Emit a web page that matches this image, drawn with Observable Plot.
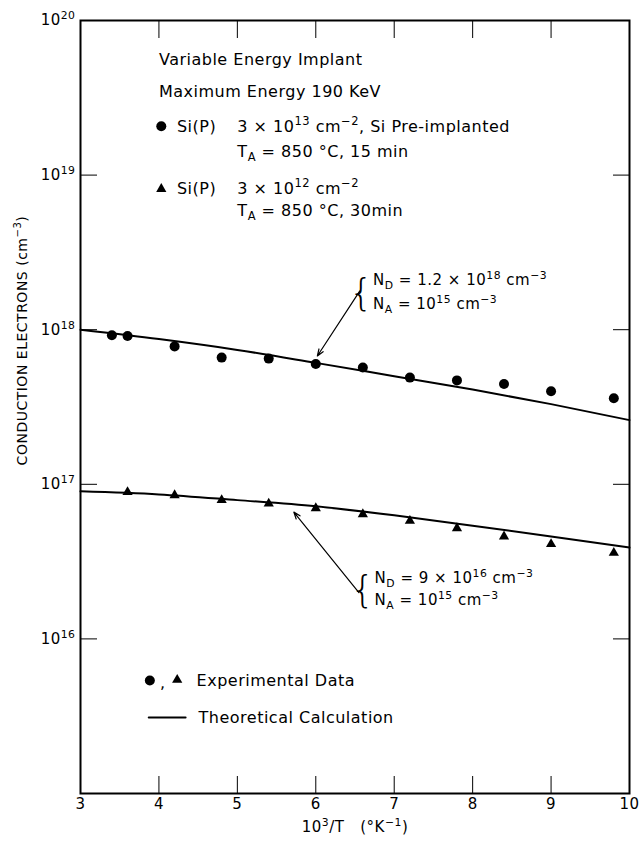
<!DOCTYPE html>
<html><head><meta charset="utf-8">
<script src="https://cdn.jsdelivr.net/npm/d3@7"></script>
<script src="https://cdn.jsdelivr.net/npm/@observablehq/plot@0.6"></script>
<style>
html,body{margin:0;padding:0;background:#fff;}
#chart{position:relative;width:642px;height:841px;}
#chart svg{display:block;}
#chart svg.overlay{position:absolute;left:0;top:0;}
#chart svg text{letter-spacing:0.5px;}
</style>
</head><body><div id="chart"></div>
<script>
// ---- data ----
const circleX = [3.4, 3.6, 4.2, 4.8, 5.4, 6.0, 6.6, 7.2, 7.8, 8.4, 9.0, 9.8];
const circleY = [9.2e17, 9.1e17, 7.8e17, 6.6e17, 6.5e17, 6.0e17, 5.7e17, 4.9e17, 4.7e17, 4.45e17, 4.0e17, 3.6e17];
const triangleX = [3.6, 4.2, 4.8, 5.4, 6.0, 6.6, 7.2, 7.8, 8.4, 9.0, 9.8];
const triangleY = [8.9e16, 8.5e16, 7.9e16, 7.5e16, 7.0e16, 6.4e16, 5.8e16, 5.2e16, 4.6e16, 4.1e16, 3.6e16];
const theoryX = [3, 4, 5, 6, 7, 8, 9, 10];
const theoryHighY = [1.0e18, 8.7e17, 7.4e17, 6.1e17, 5.0e17, 4.1e17, 3.3e17, 2.6e17];
const theoryLowY = [9.0e16, 8.6e16, 7.9e16, 7.2e16, 6.3e16, 5.4e16, 4.6e16, 3.9e16];
const xTicks = [3, 4, 5, 6, 7, 8, 9, 10];
const yTicks = [1e15, 1e16, 1e17, 1e18, 1e19, 1e20];
const yTickLabels = ["", "10^{16}", "10^{17}", "10^{18}", "10^{19}", "10^{20}"];

const circles = circleX.map((x, i) => ({x, y: circleY[i]}));
const triangles = triangleX.map((x, i) => ({x, y: triangleY[i]}));
const theoryHigh = theoryX.map((x, i) => ({x, y: theoryHighY[i]}));
const theoryLow = theoryX.map((x, i) => ({x, y: theoryLowY[i]}));

const P = (e) => Math.pow(10, e);
const F = "DejaVu Sans";
const TICK = 17;

const legendTexts = [
  {x: 4.0, y: P(19.748), t: "Variable Energy Implant"},
  {x: 4.0, y: P(19.54), t: "Maximum Energy 190 KeV"},
  {x: 4.23, y: P(19.31), t: "Si(P)"},
  {x: 5.0, y: P(19.31), t: "3 × 10^{13} cm^{−2}, Si Pre-implanted"},
  {x: 5.0, y: P(19.153), t: "T_{A} = 850 °C, 15 min"},
  {x: 4.23, y: P(18.91), t: "Si(P)"},
  {x: 5.0, y: P(18.91), t: "3 × 10^{12} cm^{−2}"},
  {x: 5.0, y: P(18.77), t: "T_{A} = 850 °C, 30min"},
  {x: 4.48, y: P(15.731), t: "Experimental Data"},
  {x: 4.505, y: P(15.492), t: "Theoretical Calculation"}
];
const noteTexts = [
  {x: 6.73, y: P(18.318), t: "N_{D} = 1.2 × 10^{18} cm^{−3}"},
  {x: 6.73, y: P(18.163), t: "N_{A} = 10^{15} cm^{−3}"},
  {x: 6.75, y: P(16.39), t: "N_{D} = 9 × 10^{16} cm^{−3}"},
  {x: 6.75, y: P(16.248), t: "N_{A} = 10^{15} cm^{−3}"}
];
const braces = [
  {x: 6.58, y: P(18.24)},
  {x: 6.60, y: P(16.32)}
];
const arrows = [
  {x1: 6.56, y1: P(18.25), x2: 6.02, y2: P(17.83)},
  {x1: 6.55, y1: P(16.30), x2: 5.72, y2: P(16.82)}
];

const common = {
  width: 642, height: 841,
  marginLeft: 80, marginRight: 13, marginTop: 20, marginBottom: 48,
  x: {domain: [3, 10]},
  y: {type: "log", domain: [1e15, 1e20]}
};

const chart = Plot.plot({
  ...common,
  style: {fontFamily: F, fontSize: "15px", color: "#000", background: "#fff", overflow: "visible"},
  marks: [
    // tick labels (bottom and left)
    Plot.axisX({anchor: "bottom", ticks: xTicks, tickSize: 0, tickPadding: 5, tickFormat: d => String(d), label: null, fontSize: 15}),
    Plot.axisY({anchor: "left", ticks: yTicks, tickSize: 0, tickPadding: 5, tickFormat: d => yTickLabels[yTicks.indexOf(d)], label: null, fontSize: 15}),
    // theory curves and data
    Plot.line(theoryHigh, {x: "x", y: "y", curve: "monotone-x", stroke: "#000", strokeWidth: 2}),
    Plot.line(theoryLow, {x: "x", y: "y", curve: "monotone-x", stroke: "#000", strokeWidth: 2}),
    Plot.dot(circles, {x: "x", y: "y", r: 5, fill: "#000", symbol: "circle"}),
    Plot.dot(triangles, {x: "x", y: "y", r: 3.8, fill: "#000", symbol: "triangle"}),
    Plot.arrow(arrows, {x1: "x1", y1: "y1", x2: "x2", y2: "y2", stroke: "#000", strokeWidth: 1.2, headLength: 9, headAngle: 40}),
    // legend samples
    Plot.dot([{x: 4.03, y: P(19.316)}, {x: 3.884, y: P(15.731)}], {x: "x", y: "y", r: 5, fill: "#000", symbol: "circle"}),
    Plot.dot([{x: 4.03, y: P(18.91)}, {x: 4.233, y: P(15.735)}], {x: "x", y: "y", r: 3.8, fill: "#000", symbol: "triangle"}),
    Plot.text([{x: 4.05, y: P(15.715)}], {x: "x", y: "y", text: () => ",", fontSize: 16}),
    Plot.line([{x: 3.87, y: P(15.492)}, {x: 4.34, y: P(15.492)}], {x: "x", y: "y", stroke: "#000", strokeWidth: 2}),
    Plot.text(legendTexts, {x: "x", y: "y", text: "t", textAnchor: "start", fontSize: 16}),
    Plot.text(noteTexts, {x: "x", y: "y", text: "t", textAnchor: "start", fontSize: 15}),
    Plot.text(braces, {x: "x", y: "y", text: () => "{", fontSize: 38, fontWeight: 200}),
    // axis titles
    Plot.text([{x: 3, y: P(17.93), t: "CONDUCTION ELECTRONS (cm^{−3})"}], {x: "x", y: "y", text: "t", dx: -58, rotate: -90, fontSize: 14}),
    Plot.text(["10^{3}/T   (°K^{−1})"], {text: d => d, frameAnchor: "bottom", dy: 38, fontSize: 15})
  ]
});

// frame and inward ticks on all four sides, drawn with the same scales on a transparent layer
const frameLayer = Plot.plot({
  ...common,
  style: {background: "none", color: "#000", overflow: "visible"},
  marks: [
    Plot.axisX({anchor: "bottom", ticks: xTicks, tickSize: -TICK, tickFormat: () => "", label: null}),
    Plot.axisX({anchor: "top", ticks: xTicks, tickSize: -TICK, tickFormat: () => "", label: null}),
    Plot.axisY({anchor: "left", ticks: yTicks, tickSize: -TICK, tickFormat: () => "", label: null}),
    Plot.axisY({anchor: "right", ticks: yTicks, tickSize: -TICK, tickFormat: () => "", label: null}),
    Plot.frame({stroke: "#000", strokeWidth: 2})
  ]
});
frameLayer.classList.add("overlay");

const host = document.getElementById("chart");
host.appendChild(chart);

// render ^{..} as superscript and _{..} as subscript, keeping real text
const NS = "http://www.w3.org/2000/svg";
function rich(el) {
  const s = el.textContent;
  if (!/[\^_]\{/.test(s)) return;
  const fs = parseFloat(getComputedStyle(el).fontSize) || 15;
  while (el.firstChild) el.removeChild(el.firstChild);
  const re = /([\^_])\{([^}]*)\}/g;
  let last = 0, m;
  const add = (t, kind) => {
    const ts = document.createElementNS(NS, "tspan");
    ts.textContent = t;
    if (kind) {
      ts.setAttribute("font-size", (fs * 0.72).toFixed(1) + "px");
      ts.setAttribute("baseline-shift", (kind === "^" ? fs * 0.42 : -fs * 0.25).toFixed(1) + "px");
    }
    el.appendChild(ts);
  };
  while ((m = re.exec(s))) {
    if (m.index > last) add(s.slice(last, m.index));
    add(m[2], m[1]);
    last = re.lastIndex;
  }
  if (last < s.length) add(s.slice(last));
}
chart.querySelectorAll("text").forEach(t => {
  if (t.children.length === 0) rich(t);
  else t.querySelectorAll("tspan").forEach(rich);
});

host.appendChild(frameLayer);
</script>
</body></html>
